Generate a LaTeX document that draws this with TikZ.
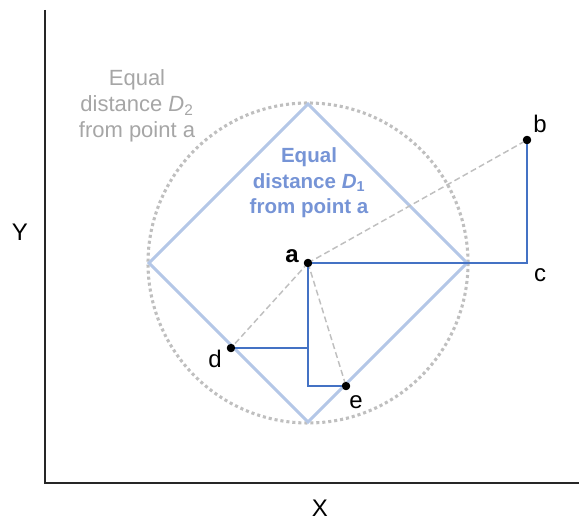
\documentclass[tikz,border=0pt]{standalone}
\usepackage{fontspec}
\setmainfont{Liberation Sans}
\usetikzlibrary{positioning,calc}
\definecolor{DiaBlue}{HTML}{B4C7E7}
\definecolor{LegBlue}{HTML}{4472C4}
\definecolor{TxtBlue}{HTML}{7694D6}
\definecolor{TxtGray}{HTML}{A6A6A6}
\definecolor{LineGray}{HTML}{BFBFBF}

\begin{document}
\begin{tikzpicture}[x=0.75pt, y=-0.75pt,
        pt/.style={circle, fill=black, inner sep=0pt, minimum size=6.2pt},
        lbl/.style={font=\fontsize{18}{21}\selectfont, inner sep=0pt, anchor=base},
        axis/.style={draw=black!85, line width=1.1pt},
        diam/.style={draw=DiaBlue, line width=2.2pt, line join=miter},
        leg/.style={draw=LegBlue, line width=1.5pt},
        ray/.style={draw=LineGray, line width=1.1pt, dash pattern=on 4.5pt off 2.5pt},
      ]
      \useasboundingbox (0,0) rectangle (579,523);

      % axes
      \coordinate (ytop) at (45,10);
      \coordinate (orig) at (45,483);
      \coordinate (xend) at (579,483);
      \draw[axis] (ytop) -- (orig) -- (xend);
      \node[lbl] (ylab) at (20,241) {Y};
      \node[lbl] (xlab) at (320,517) {X};

      % points
      \node[pt] (a) at (308,263) {};
      \node[pt] (b) at (527,140) {};
      \node[pt] (d) at (231,348) {};
      \node[pt] (e) at (346,386) {};
      \coordinate (c) at (527,263);

      % equal distance D2 (circle) and D1 (diamond)
      \draw[LineGray, line width=2.3pt, dash pattern=on 2.3pt off 2.2pt]
            (a) circle (160);
      \coordinate (dtop) at (308,104);
      \coordinate (drgt) at (467,263);
      \coordinate (dbot) at (308,422);
      \coordinate (dlft) at (149,263);
      \draw[diam] (dtop) -- (drgt) -- (dbot) -- (dlft) -- cycle;

      % straight distances
      \draw[ray] (a.center) -- (b.center);
      \draw[ray] (a.center) -- (d.center);
      \draw[ray] (a.center) -- (e.center);

      % city block distances
      \draw[leg] (a.center) -- (c) -- (b.center);
      \draw[leg] (a.center) -- (a|-e) -- (e.center);
      \draw[leg] (d.center) -- (d-|a);

      \node[pt] at (a) {};
      \node[pt] at (b) {};
      \node[pt] at (d) {};
      \node[pt] at (e) {};

      % labels
      \node[lbl, font=\fontsize{18}{21}\selectfont\bfseries] (alab) at (292,263) {a};
      \node[lbl] (blab) at (540,133) {b};
      \node[lbl] (clab) at (540,282) {c};
      \node[lbl] (dlab) at (215,368) {d};
      \node[lbl] (elab) at (356,409) {e};

      \node[align=center, text=TxtGray, inner sep=0pt,
            font=\fontsize{16.5}{19.5}\selectfont] (d2txt) at (137,106)
            {Equal\\distance \textit{D}\textsubscript{2}\\from point a};
      \node[align=center, text=TxtBlue, inner sep=0pt,
            font=\fontsize{15.4}{19}\selectfont\bfseries] (d1txt) at (309,183)
            {Equal\\distance \textit{D}\textsubscript{1}\\from point a};
    \end{tikzpicture}
\end{document}
